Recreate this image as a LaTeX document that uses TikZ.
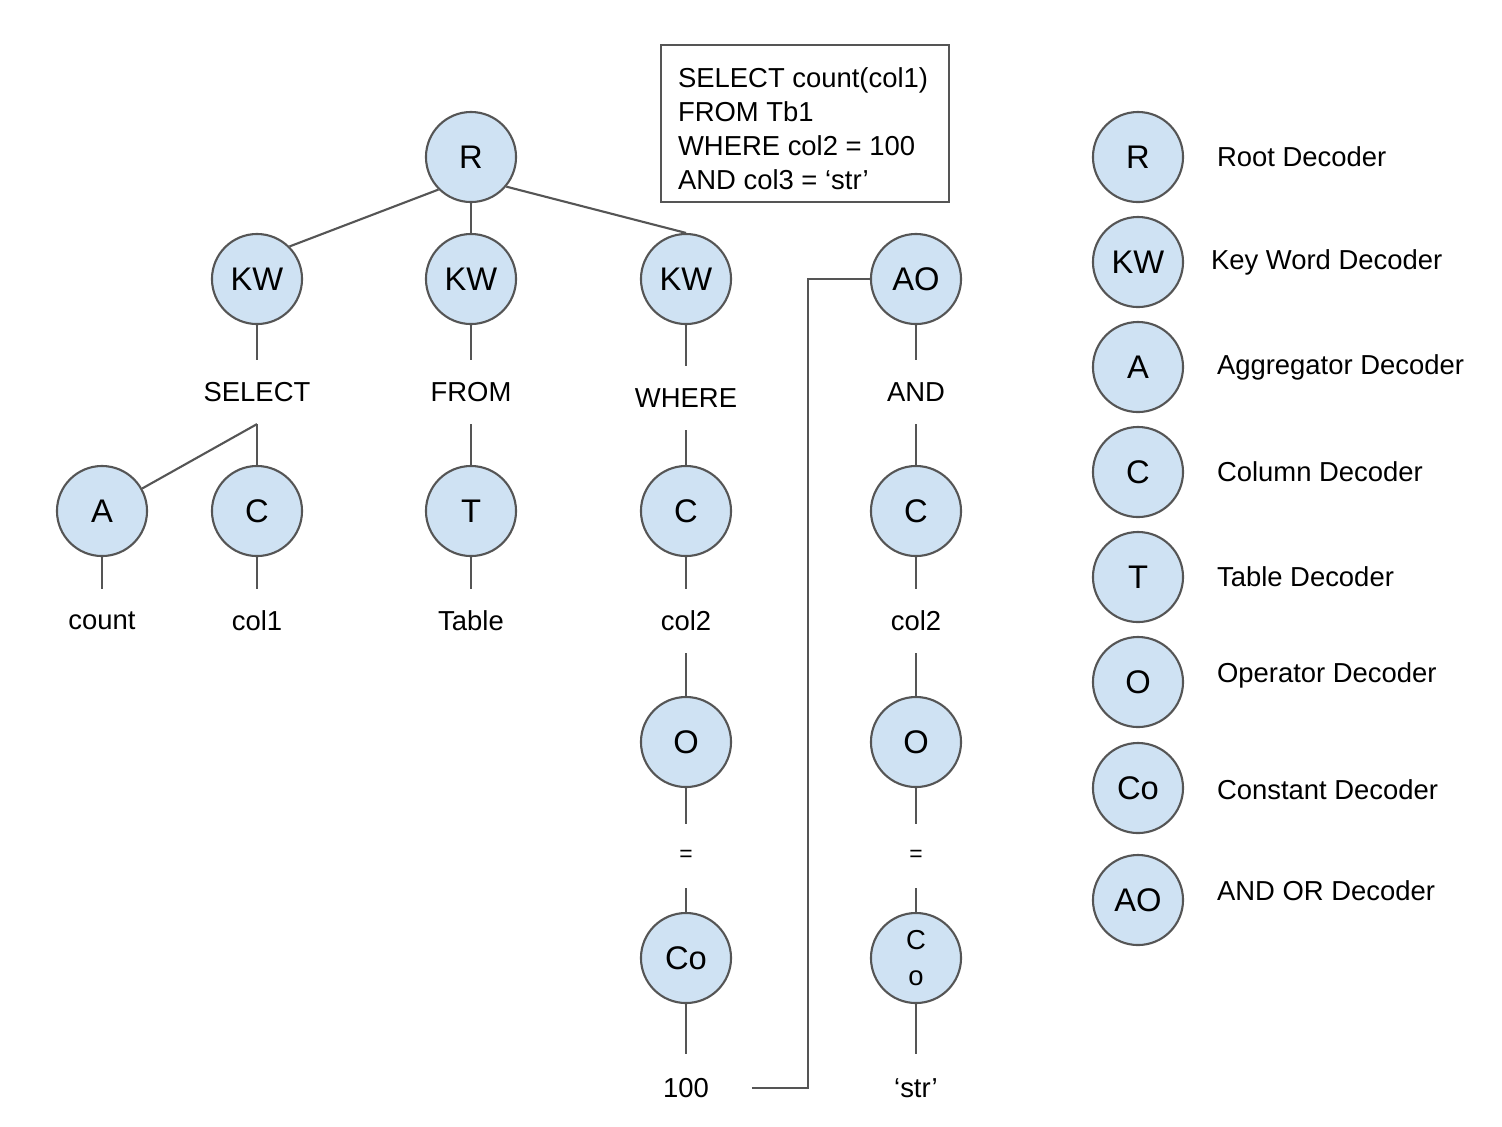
\documentclass[tikz,border=0pt]{standalone}
\usepackage{fontspec}
\setmainfont{Liberation Sans}
\usetikzlibrary{positioning}
\definecolor{decfill}{HTML}{CFE2F3}
\definecolor{edgegray}{HTML}{555555}

\begin{document}
\begin{tikzpicture}[x=0.01cm,y=-0.01cm,line width=0.6pt]
\useasboundingbox (0,0) rectangle (1502,1126);
\tikzset{dec/.style={circle,draw=edgegray,fill=decfill,minimum size=0.9cm,inner sep=0pt,font=\fontsize{9.3}{11}\selectfont}}
\tikzset{lbl/.style={inner sep=0pt,minimum height=0.62cm,font=\fontsize{7.8}{9.7}\selectfont}}
\tikzset{legend/.style={anchor=west,inner sep=0pt,font=\fontsize{7.8}{9.7}\selectfont}}
\tikzset{link/.style={draw=edgegray}}

  % query box
  \node[draw=edgegray,anchor=north west,minimum width=2.88cm,minimum height=1.57cm,
        inner sep=0pt] (query) at (660,44) {};
  \node[anchor=west,inner sep=0pt,align=left,font=\fontsize{7.8}{9.7}\selectfont]
        (querytext) at (677,129) {SELECT count(col1)\\FROM Tb1\\WHERE col2 = 100\\AND col3 = ‘str’};

  % tree
  \node[dec] (r)    at (471,157) {R};
  \node[dec] (kw1)  at (257,279) {KW};
  \node[dec] (kw2)  at (471,279) {KW};
  \node[dec] (kw3)  at (686,279) {KW};
  \node[dec] (ao)   at (916,279) {AO};

  \node[lbl] (select) at (257,392) {SELECT};
  \node[lbl] (from)   at (471,392) {FROM};
  \node[lbl] (where)  at (686,398) {WHERE};
  \node[lbl] (and)    at (916,392) {AND};

  \node[dec] (a)    at (102,511) {A};
  \node[dec] (c1)   at (257,511) {C};
  \node[dec] (t)    at (471,511) {T};
  \node[dec] (c2)   at (686,511) {C};
  \node[dec] (c3)   at (916,511) {C};

  \node[lbl] (count) at (102,621) {count};
  \node[lbl] (col1)  at (257,621) {col1};
  \node[lbl] (table) at (471,621) {Table};
  \node[lbl] (col2a) at (686,621) {col2};
  \node[lbl] (col2b) at (916,621) {col2};

  \node[dec] (o1)   at (686,742) {O};
  \node[dec] (o2)   at (916,742) {O};
  \node[lbl,font=\fontsize{6.5}{8}\selectfont] (eq1) at (686,856) {=};
  \node[lbl,font=\fontsize{6.5}{8}\selectfont] (eq2) at (916,856) {=};
  \node[dec] (co1)  at (686,958) {Co};
  \node[dec,align=center,font=\fontsize{7.8}{10.5}\selectfont] (co2) at (916,958) {C\\o};
  \node[lbl,minimum height=0.66cm] (v100) at (686,1088) {100};
  \node[lbl,minimum height=0.66cm] (vstr) at (916,1088) {‘str’};
  \coordinate (bend) at (808,279);

  \draw[link] (r.south west) -- (kw1.north east);
  \draw[link] (r) -- (kw2);
  \draw[link] (r.-40) -- (kw3.north);
  \draw[link] (kw1) -- (select);
  \draw[link] (kw2) -- (from);
  \draw[link] (kw3) -- (where);
  \draw[link] (ao) -- (and);
  \draw[link] (select.south) -- (a);
  \draw[link] (select) -- (c1);
  \draw[link] (from) -- (t);
  \draw[link] (where) -- (c2);
  \draw[link] (and) -- (c3);
  \draw[link] (a) -- (count);
  \draw[link] (c1) -- (col1);
  \draw[link] (t) -- (table);
  \draw[link] (c2) -- (col2a);
  \draw[link] (c3) -- (col2b);
  \draw[link] (col2a) -- (o1);
  \draw[link] (col2b) -- (o2);
  \draw[link] (o1) -- (eq1);
  \draw[link] (o2) -- (eq2);
  \draw[link] (eq1) -- (co1);
  \draw[link] (eq2) -- (co2);
  \draw[link] (co1) -- (v100);
  \draw[link] (co2) -- (vstr);
  \draw[link,shorten <=0.42cm] (v100.east) -| (bend) -- (ao);

  % legend
  \node[dec] (lr)  at (1138,157) {R};
  \node[dec] (lkw) at (1138,262) {KW};
  \node[dec] (la)  at (1138,367) {A};
  \node[dec] (lc)  at (1138,472) {C};
  \node[dec] (lt)  at (1138,577) {T};
  \node[dec] (lo)  at (1138,682) {O};
  \node[dec] (lco) at (1138,788) {Co};
  \node[dec] (lao) at (1138,900) {AO};
  \node[legend] (lrtext)  at (1216,157) {Root Decoder};
  \node[legend] (lkwtext) at (1210,262) {Key Word Decoder};
  \node[legend] (latext)  at (1216,367) {Aggregator Decoder};
  \node[legend] (lctext)  at (1216,472) {Column Decoder};
  \node[legend] (lttext)  at (1216,577) {Table Decoder};
  \node[legend] (lotext)  at (1216,675) {Operator Decoder};
  \node[legend] (lcotext) at (1216,790) {Constant Decoder};
  \node[legend] (laotext) at (1216,891) {AND OR Decoder};
\end{tikzpicture}
\end{document}
